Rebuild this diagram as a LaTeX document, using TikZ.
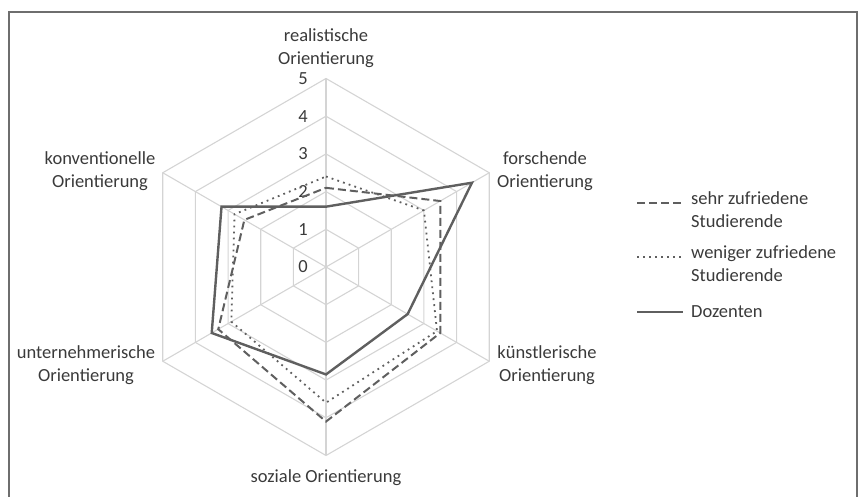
\documentclass[tikz,border=0pt]{standalone}
\usepackage{fontspec}
\setmainfont{Carlito}
\usetikzlibrary{positioning}
\definecolor{gridgray}{HTML}{D4D4D4}
\definecolor{linegray}{HTML}{5F5F5F}
\definecolor{textgray}{HTML}{3A3A3A}
\definecolor{framegray}{HTML}{6E6E6E}
\tikzstyle{lbl} = [align=center, text=textgray, font=\fontsize{18.5}{23}\selectfont, inner sep=0pt]
\tikzstyle{gridline} = [gridgray, line width=1.1pt]
\tikzstyle{sehr} = [linegray, line width=2pt, dash pattern=on 8pt off 4pt]
\tikzstyle{weniger} = [linegray, line width=1.8pt, dash pattern=on 1.8pt off 4.2pt]
\tikzstyle{doz} = [linegray, line width=2.4pt]
\def\unitlen{37.7}

\begin{document}
\begin{tikzpicture}[x=1pt, y=1pt]
    \useasboundingbox (-326,-230) rectangle (533,267);
    \draw[framegray, line width=1.2pt] (-317,-240) -- (-317,255) -- (531,255) -- (531,-240);

    % hexagon grid
    \foreach \l in {1,...,5}
        \draw[gridline] (90:\l*\unitlen) -- (30:\l*\unitlen) -- (-30:\l*\unitlen)
            -- (-90:\l*\unitlen) -- (-150:\l*\unitlen) -- (150:\l*\unitlen) -- cycle;
    \foreach \a in {90,30,-30,-90,-150,150}
        \draw[gridline] (0,0) -- (\a:5*\unitlen);

    % scale values
    \foreach \l in {0,...,5}
        \node[lbl] (n\l) at (-23, \l*\unitlen) {\l};

    % axis labels
    \node[lbl] (real) at (0, 218.5) {realistische\\Orientierung};
    \node[lbl] (forsch) at (219, 96) {forschende\\Orientierung};
    \node[lbl] (kuenst) at (221, -98.5) {künstlerische\\Orientierung};
    \node[lbl] (soz) at (0, -211) {soziale Orientierung};
    \node[lbl] (untern) at (-240, -98.5) {unternehmerische\\Orientierung};
    \node[lbl] (konv) at (-226, 96) {konventionelle\\Orientierung};

    % data
    \draw[sehr] (90:2.1*\unitlen) -- (30:3.5*\unitlen) -- (-30:3.5*\unitlen)
        -- (-90:4.1*\unitlen) -- (-150:3.3*\unitlen) -- (150:2.5*\unitlen) -- cycle;
    \draw[weniger] (90:2.4*\unitlen) -- (30:3.0*\unitlen) -- (-30:3.4*\unitlen)
        -- (-90:3.6*\unitlen) -- (-150:2.9*\unitlen) -- (150:2.8*\unitlen) -- cycle;
    \draw[doz] (90:1.6*\unitlen) -- (30:4.47*\unitlen) -- (-30:2.5*\unitlen)
        -- (-90:2.85*\unitlen) -- (-150:3.5*\unitlen) -- (150:3.2*\unitlen) -- cycle;

    % legend
    \node[lbl, anchor=north west, align=left] (lsehr) at (365, 75.5) {sehr zufriedene\\Studierende};
    \node[lbl, anchor=north west, align=left] (lweniger) at (365, 21.5) {weniger zufriedene\\Studierende};
    \node[lbl, anchor=west] (ldoz) at (365, -45) {Dozenten};
    \draw[sehr] (311,64) -- (357,64);
    \draw[weniger] (311,10) -- (357,10);
    \draw[doz] (311,-45) -- (357,-45);
\end{tikzpicture}
\end{document}
